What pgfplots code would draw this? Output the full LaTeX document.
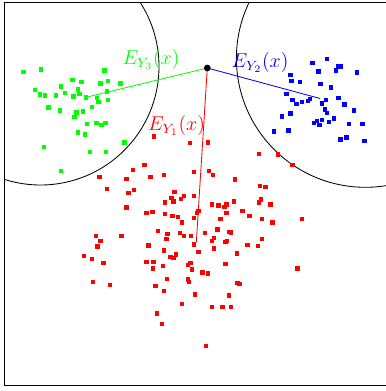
\documentclass[border=0pt]{standalone}
\usepackage{pgfplots}
\pgfplotsset{compat=1.18}

\begin{document}
\begin{tikzpicture}
\begin{axis}[name=a,
             scale only axis,
             width=229.8pt, height=229.8pt,
             xmin=4.5, xmax=387.5,
             ymin=2.5, ymax=385.5,
             y dir=reverse,
             ticks=none,
             axis line style={line width=0.6pt}]

% the two circles
\draw[black, line width=0.5pt] (axis cs:40.5,66.5) circle[radius=118.5];
\draw[black, line width=0.5pt] (axis cs:365.4,58.3) circle[radius=129];

\pgfplotsset{cloud/.style={only marks, mark=square*, mark size=1pt,
                           mark options={draw=none}}}

% Y_1
\addplot[cloud, fill=red, red] coordinates {
  (154,136.3) (189.7,143) (207.7,142.3) (258.7,153.7) (277.7,154.3) (292.3,165)
  (144.3,165) (133,170) (99.3,176.7) (126.3,178.7) (150.3,176.7) (163.7,174.7)
  (194,172) (208.7,170.7) (212.7,174.7) (234.7,179.3) (259.7,186) (265.3,187)
  (107,189) (134,190) (128.3,192.7) (174.3,192) (171.3,197.7) (184,195.7)
  (181,198.7) (173.3,201.3) (164.7,202.3) (194,195.7)
  (211.7,204.3) (218.3,205.3) (224.3,207) (226.3,204.3) (234,201.3) (258.7,202.3)
  (261,199.3) (270.3,204.3)
  (126.3,207.3) (146.3,213) (152.3,212) (164.7,214) (172.3,215.7) (178,216.7)
  (194,217.7) (196.7,212.7) (198.3,211) (182,222.3)
  (226.3,213) (242.3,210.7) (249.3,216) (220.3,218.7) (261.7,218.7) (272.3,222.3)
  (302,218.7)
  (95.7,236) (100.3,240.7) (97.3,246.3) (121.3,236) (158,231) (167.3,234)
  (166.3,238.7) (180,233) (184,236) (190.7,236) (193.7,244.3) (148.3,245.3)
  (217.3,229.3) (205,233) (228.5,232) (230.5,232.3) (213.7,237.7) (211.7,240.7)
  (225.3,242) (227,240.7) (261.7,238.7) (247.3,244.7) (257.7,245.7) (213.7,248.3)
  (84,256) (91.7,258.7) (103.3,262.7) (163.7,250.3) (176,254.3) (170.3,257)
  (173.3,258) (146.3,261.7) (153.3,261.7) (162.7,265.7) (153,268.3) (187.7,264.7)
  (190.3,262.7) (191.7,269.3)
  (198.3,252) (236.7,253.3) (225.3,264) (202.3,272.3) (208,273.3) (297.3,268.3)
  (166.7,279) (187.7,279.3) (188.7,282) (92.7,282) (110,284.7) (155.3,285.7)
  (164,290.7) (194.7,294.3) (237.3,282.7) (239.3,284) (229,295.3)
  (182,304) (211.7,306.7) (222.3,306.7) (231,306.7) (157,313.3) (162,324) (206,346)
};

% Y_2
\addplot[cloud, blue] coordinates {
  (312.3,62.7) (326.7,58.7) (337.7,66.3) (340.3,66.3) (356.7,72.3) (318.3,71.3)
  (335.7,70.3) (290.3,75) (291.3,81) (300,81.7) (320.3,83.7) (330.7,87.3)
  (286.3,94) (292.3,100) (296.3,103.7) (302,101.7) (307.7,101) (309.5,99)
  (322,103.3) (326,100) (338.3,98) (344.3,104.3) (325,109.3) (327,113)
  (354,110.3) (290.3,113.3) (281.7,116.3) (333.7,118.3) (313.7,123) (316.7,121)
  (319.3,124.7) (322,120) (328.7,121.7) (349,123.7) (362.3,123.7)
  (274,131.3) (288.3,130.3) (340.3,139.3) (346.3,137.3) (364.3,141)
};

% Y_3
\addplot[cloud, green] coordinates {
  (23.3,72) (40.7,69.3) (104.3,70.3) (72.3,79.7) (81.3,81.7) (100.3,83.3)
  (108,80.7) (120.3,83.3) (60.7,86.3) (35,90) (78,89.3) (40,94.3) (44.7,95.3)
  (56,95.3) (64.7,93) (73.3,96.3) (79.3,94) (86,97.3) (96.7,98) (107,91.3)
  (98.3,101.7) (107.7,100) (48.3,107.3) (60,110.3) (91.7,106.7) (76.3,112.3)
  (83,111.3) (74.3,117) (87,124) (96.3,123) (101.3,125) (105.3,123) (78,132.3)
  (85,134.3) (43.7,146.7) (89.7,151.7) (106,151.7) (124.3,142.3) (61,171)
};

% from x to the three means
\addplot[red, line width=0.5pt] coordinates {(207.3,68) (196.3,242.3)};
\addplot[blue, line width=0.5pt] coordinates {(207.3,68) (320,98.5)};
\addplot[green, line width=0.5pt] coordinates {(207.3,68) (86,97.3)};
\addplot[only marks, mark=*, mark size=1.8pt, black] coordinates {(207.3,68)};

\node[red, font=\large] at (axis cs:176.5,126) {$E_{Y_1}(x)$};
\node[blue, font=\large] at (axis cs:260,63) {$E_{Y_2}(x)$};
\node[green, font=\large] at (axis cs:151,60) {$E_{Y_3}(x)$};
\end{axis}
\pgfresetboundingbox
\path ([shift={(-2.7pt,-3.3pt)}]a.south west) rectangle ([shift={(228.3pt,231.3pt)}]a.south west);
\end{tikzpicture}
\end{document}
